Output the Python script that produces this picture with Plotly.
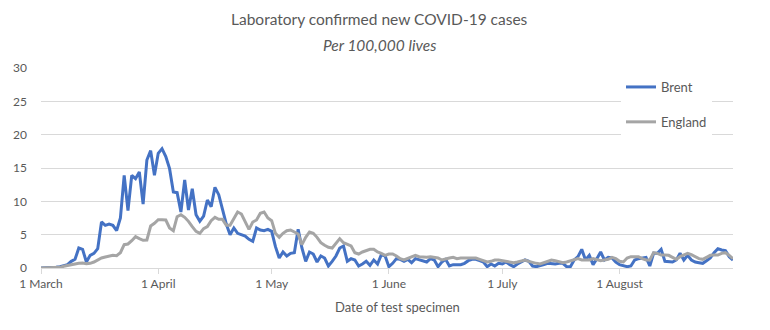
import pandas as pd
import plotly.graph_objects as go

dates = pd.date_range("2020-03-01", "2020-08-31", freq="D")

brent = [
    0.0, 0.0, 0.1, 0.0, 0.1, 0.2, 0.3, 0.5, 1.0, 1.3,
    3.0, 2.8, 0.9, 1.9, 2.2, 2.9, 6.9, 6.4, 6.6, 6.4,
    5.6, 7.5, 13.9, 8.6, 13.9, 13.4, 14.4, 9.6, 16.2, 17.6,
    13.9, 17.2, 17.9, 16.7, 14.9, 11.4, 11.3, 8.4, 13.2, 8.7,
    11.9, 8.0, 7.0, 7.8, 10.2, 9.2, 12.1, 11.0, 8.8, 6.6,
    5.0, 6.0, 5.2, 5.0, 4.8, 4.3, 4.0, 6.0, 5.7, 5.6,
    5.8, 5.5, 3.2, 1.5, 2.4, 1.8, 2.2, 2.3, 5.8, 3.0,
    1.0, 2.4, 2.1, 0.9, 1.8, 1.5, 0.3, 1.0, 1.8, 3.0,
    3.3, 1.0, 1.4, 1.2, 0.3, 0.6, 1.0, 0.4, 1.2, 0.6,
    2.0, 1.8, 0.2, 0.7, 1.4, 1.3, 1.0, 1.3, 0.8, 1.4,
    1.2, 1.0, 0.9, 1.4, 1.2, 0.2, 0.9, 1.3, 0.3, 0.5,
    0.5, 0.5, 0.7, 1.1, 1.3, 1.3, 1.1, 0.9, 0.2, 0.6,
    0.3, 0.7, 0.6, 0.9, 0.5, 0.2, 0.6, 0.9, 1.2, 1.0,
    0.3, 0.2, 0.3, 0.5, 0.7, 0.6, 0.6, 0.7, 0.7, 0.2,
    0.2, 1.2, 1.7, 2.8, 1.2, 1.9, 0.5, 1.4, 2.4, 1.2,
    1.6, 1.5, 0.9, 0.5, 0.3, 0.2, 0.3, 1.2, 1.4, 1.5,
    1.6, 0.3, 2.2, 2.2, 2.8, 1.0, 1.0, 0.9, 1.2, 2.2,
    1.2, 1.9, 1.2, 0.9, 0.8, 0.7, 1.1, 1.5, 2.3, 2.9,
    2.7, 2.6, 1.7, 1.2,
]

england = [
    0.0, 0.0, 0.0, 0.1, 0.1, 0.1, 0.25, 0.4, 0.5, 0.6,
    0.7, 0.75, 0.65, 0.7, 0.9, 1.2, 1.5, 1.65, 1.8, 1.9,
    1.85, 2.3, 3.5, 3.6, 4.1, 4.7, 4.4, 4.15, 4.2, 6.3,
    6.7, 7.25, 7.25, 7.2, 6.0, 5.6, 7.7, 8.0, 7.6, 7.0,
    6.2, 5.5, 5.2, 5.9, 6.2, 7.1, 7.6, 7.3, 7.3, 6.4,
    6.4, 7.3, 8.4, 8.1, 7.0, 5.8, 6.9, 7.2, 8.2, 8.4,
    7.5, 7.1, 5.2, 4.6, 5.2, 5.6, 5.7, 5.4, 5.1, 3.5,
    4.6, 5.4, 5.2, 4.6, 3.8, 3.4, 3.1, 3.0, 3.7, 4.4,
    3.8, 3.6, 3.3, 2.3, 2.1, 2.4, 2.6, 2.8, 2.8, 2.4,
    2.2, 1.9, 2.1, 2.1, 1.8, 1.4, 1.2, 1.4, 1.7, 1.9,
    1.7, 1.6, 1.6, 1.7, 1.6, 1.5, 1.2, 1.4, 1.5, 1.6,
    1.4, 1.5, 1.5, 1.6, 1.5, 1.5, 1.3, 1.1, 0.9, 1.0,
    1.2, 1.2, 1.1, 1.0, 0.9, 0.8, 0.9, 1.0, 1.2, 1.0,
    0.8, 0.7, 0.6, 0.8, 1.0, 1.2, 1.1, 0.9, 0.8, 0.9,
    1.1, 1.3, 1.4, 1.2, 1.2, 1.2, 1.4, 1.3, 1.1, 1.2,
    1.3, 1.6, 1.4, 1.0, 0.9, 1.5, 1.7, 1.7, 1.7, 1.4,
    1.2, 1.2, 2.3, 2.2, 1.95, 1.95, 1.9, 1.6, 1.3, 1.7,
    2.0, 2.2, 2.0, 1.7, 1.4, 1.3, 1.6, 1.9, 1.95, 1.95,
    2.2, 2.3, 1.9, 1.4,
]

tick_dates = ["2020-03-01", "2020-04-01", "2020-05-01", "2020-06-01", "2020-07-01", "2020-08-01"]
tick_labels = ["1 March", "1 April", "1 May", "1 June", "1 July", "1 August"]
y_ticks = [0, 5, 10, 15, 20, 25, 30]

FONT = "Lato"
GREY = "#595959"
W, H = 770, 330
ML, MR, MT, MB = 41, 37, 68, 62
PW, PH = W - ML - MR, H - MT - MB


def px_x(px):
    return (px - ML) / PW


def px_y(py):
    return (H - py - MB) / PH


fig = go.Figure()
fig.add_trace(go.Scatter(x=dates, y=brent, mode="lines", name="Brent",
                         legendgroup="b",
                         line=dict(color="#4472C4", width=3)))
fig.add_trace(go.Scatter(x=dates, y=england, mode="lines", name="England",
                         legendgroup="e",
                         line=dict(color="#A5A5A5", width=3)))

fig.update_layout(
    width=W, height=H,
    margin=dict(l=ML, r=MR, t=MT, b=MB),
    paper_bgcolor="white", plot_bgcolor="white",
    font=dict(family=FONT, color=GREY, size=12),
    showlegend=True,
    legend=dict(x=px_x(621), y=px_y(72), xanchor="left", yanchor="top",
                bgcolor="white", font=dict(size=13, color=GREY),
                tracegroupgap=15, itemwidth=30, traceorder="grouped"),
    annotations=[
        dict(text="Laboratory confirmed new COVID-19 cases", x=px_x(379), y=px_y(19),
             xref="paper", yref="paper", showarrow=False, xanchor="center", yanchor="middle",
             font=dict(size=15.5, color=GREY)),
        dict(text="<i>Per 100,000 lives</i>", x=px_x(379), y=px_y(45),
             xref="paper", yref="paper", showarrow=False, xanchor="center", yanchor="middle",
             font=dict(size=15.5, color=GREY)),
        dict(text="Date of test specimen", x=px_x(397), y=px_y(307),
             xref="paper", yref="paper", showarrow=False, xanchor="center", yanchor="middle",
             font=dict(size=13, color=GREY)),
    ],
)

fig.update_xaxes(
    type="date",
    range=["2020-03-01", "2020-08-31"],
    tickvals=tick_dates, ticktext=tick_labels,
    ticks="outside", ticklen=5, tickcolor="#D9D9D9",
    showline=True, linecolor="#D9D9D9", linewidth=1,
    showgrid=False, zeroline=False,
    tickfont=dict(size=12, color=GREY),
)
fig.update_yaxes(
    range=[0, 30], tickvals=y_ticks,
    showgrid=True, gridcolor="#D9D9D9", gridwidth=1,
    zeroline=False, showline=False, ticks="",
    ticklabelstandoff=13,
    tickfont=dict(size=12, color=GREY),
)

fig.write_html("out.html")
